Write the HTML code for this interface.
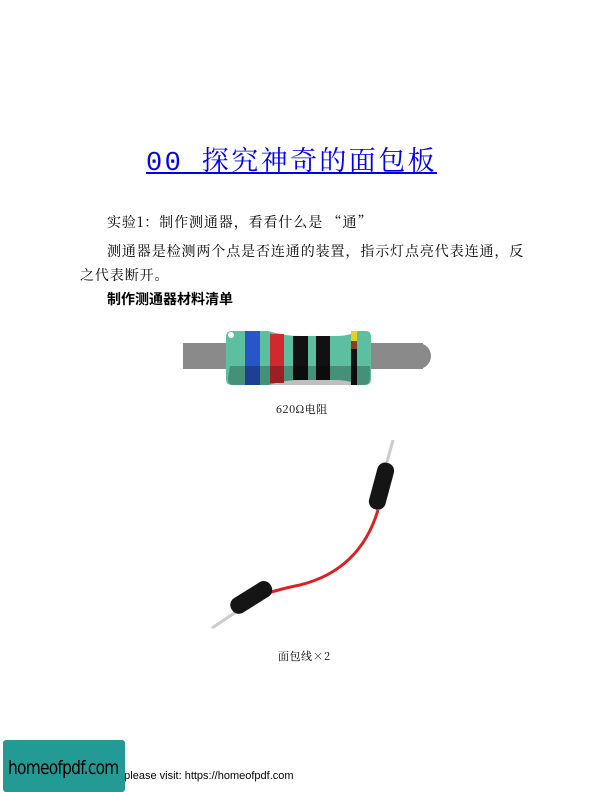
<!DOCTYPE html>
<html><head><meta charset="utf-8"><style>
body{margin:0;background:#fff;}
.p{position:relative;width:612px;height:792px;overflow:hidden;background:#fff;font-family:"Noto Serif CJK SC","Liberation Serif",serif;color:#000;}
.t{position:absolute;white-space:nowrap;}
</style></head><body><div class="p">
<div class="t" style="left:146px;top:139px;font-size:27px;color:#00e;text-decoration:underline;font-family:'Liberation Mono','Noto Serif CJK SC',monospace;letter-spacing:2.4px;">00 探究神奇的面包板</div>
<div class="t" style="left:107px;top:212px;font-size:14px;letter-spacing:0.9px;">实验1：制作测通器，看看什么是 “通”</div>
<div class="t" style="left:107px;top:241px;font-size:14px;letter-spacing:0.9px;">测通器是检测两个点是否连通的装置，指示灯点亮代表连通，反</div>
<div class="t" style="left:80px;top:265px;font-size:14px;letter-spacing:0.9px;">之代表断开。</div>
<div class="t" style="left:107px;top:289px;font-size:14px;font-weight:bold;font-family:'Noto Sans CJK SC',sans-serif;">制作测通器材料清单</div>
<svg style="position:absolute;left:0;top:0" width="612" height="792">
<rect x="183" y="343" width="240" height="26" fill="#8a8a8a"/>
<circle cx="418" cy="356" r="13" fill="#8a8a8a"/>
<path d="M232 331 H268 Q285 336 300 336 H335 Q350 336 358 331 H366 Q371 331 371 337 V379 Q371 385 365 385 H358 Q350 380 335 380 H300 Q285 380 268 385 H232 Q226 385 226 379 V337 Q226 331 232 331Z" fill="#5cc0a0"/>
<rect x="245" y="331" width="15" height="54" fill="#2a55c8"/>
<rect x="270" y="334" width="14" height="49" fill="#d02a30"/>
<rect x="293" y="336" width="15" height="44" fill="#111"/>
<rect x="316" y="336" width="14" height="44" fill="#111"/>
<rect x="351" y="331" width="6" height="54" fill="#111"/>
<rect x="351" y="331" width="6" height="10" fill="#e8d020"/>
<rect x="351" y="341" width="6" height="8" fill="#8a4020"/>
<path d="M230 366 H370 V378 Q370 385 363 385 H233 Q228 385 228 378Z" fill="#000" opacity="0.25"/>
<circle cx="231" cy="335" r="3" fill="#fff"/>
<path d="M393 440 L386 466" stroke="#ccc" stroke-width="3"/>
<path d="M378 510 Q360 570 300 585 Q275 590 260 596" stroke="#e02020" stroke-width="3" fill="none"/>
<rect x="373" y="462" width="17" height="48" rx="8" fill="#151515" transform="rotate(15 381 486)"/>
<path d="M236 612 L212 628" stroke="#ccc" stroke-width="3"/>
<rect x="228" y="589" width="46" height="17" rx="8" fill="#151515" transform="rotate(-32 251 597)"/>
</svg>
<div class="t" style="left:276px;top:401px;font-size:11px;letter-spacing:0.5px;">620Ω电阻</div>
<div class="t" style="left:278px;top:648px;font-size:11px;letter-spacing:0.5px;">面包线×2</div>
<div class="t" style="left:115px;top:770px;font-size:11px;font-family:'Liberation Sans',sans-serif;">e please visit: https://homeofpdf.com</div>
<div style="position:absolute;left:3px;top:740px;width:122px;height:52px;background:#239a94;border-radius:3px;"></div>
<div class="t" style="left:8px;top:757px;font-size:19px;font-family:'DejaVu Sans Condensed','Liberation Sans',sans-serif;color:#000;letter-spacing:-0.8px;transform:scaleX(0.9);transform-origin:left;">homeofpdf.com</div>
</div></body></html>
